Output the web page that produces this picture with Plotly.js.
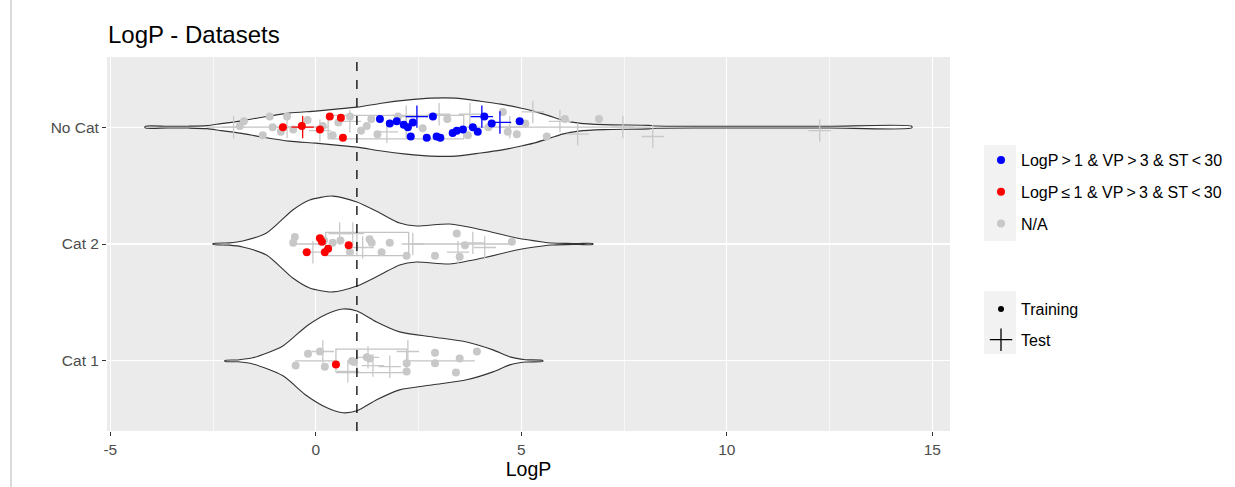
<!DOCTYPE html>
<html><head><meta charset="utf-8">
<script src="https://cdn.plot.ly/plotly-3.0.1.min.js"></script>
<style>html,body{margin:0;padding:0;background:#fff}#chart{width:1235px;height:487px}</style>
</head><body><div id="chart"></div>
<script>
// ---- categories & axis ----
const categories = ['Cat 1', 'Cat 2', 'No Cat'];
const catPositions = [1, 2, 3];
const xTickVals = [-5, 0, 5, 10, 15];
const threshold = 1;

// ---- violin outlines (LogP, half-width in category units) ----
const noCatViolinX = [-4.15, -3.6, -3.1, -2.65, -2.3, -1.85, -1.3, -0.65, 0.0, 0.5, 1.0, 1.6, 2.2, 2.8, 3.4, 4.0, 4.5, 5.0, 5.3, 5.7, 6.0, 6.4, 7.0, 8.1, 8.3, 9.5, 11.0, 12.5, 14.5];
const noCatViolinHalf = [0.007, 0.007, 0.008, 0.013, 0.030, 0.051, 0.085, 0.120, 0.137, 0.154, 0.171, 0.205, 0.231, 0.248, 0.248, 0.222, 0.197, 0.162, 0.137, 0.094, 0.060, 0.034, 0.021, 0.015, 0.009, 0.007, 0.007, 0.007, 0.007];
const cat2ViolinX = [-2.5, -2.1, -1.78, -1.2, -0.56, -0.15, 0.41, 1.0, 1.56, 2.04, 2.45, 3.26, 4.06, 4.89, 5.52, 5.75, 6.1, 6.4, 6.74];
const cat2ViolinHalf = [0.004, 0.010, 0.026, 0.094, 0.291, 0.376, 0.410, 0.359, 0.265, 0.179, 0.154, 0.171, 0.120, 0.051, 0.017, 0.008, 0.005, 0.004, 0.004];
const cat1ViolinX = [-2.21, -1.9, -1.53, -0.8, -0.22, 0.27, 0.66, 1.0, 1.48, 2.04, 2.85, 3.67, 4.31, 4.72, 5.1, 5.52];
const cat1ViolinHalf = [0.004, 0.008, 0.026, 0.128, 0.299, 0.402, 0.444, 0.427, 0.333, 0.248, 0.205, 0.162, 0.094, 0.034, 0.010, 0.004];

// ---- box statistics (order: Cat 1, Cat 2, No Cat) ----
const boxLower = [-0.5, -0.58, -2.65];
const boxQ1 = [0.49, 0.24, 0.3];
const boxMedian = [1.0, 1.0, 2.2];
const boxQ3 = [2.21, 2.26, 3.6];
const boxUpper = [3.87, 4.77, 8.15];

// ---- points: LogP, category, vertical jitter ----
const blueTrainLogP = [1.56, 1.80, 1.97, 2.14, 2.24, 2.36, 2.31, 2.70, 2.85, 2.94, 3.03, 3.33, 3.43, 3.58, 3.82, 3.94, 4.10, 4.28, 4.96];
const blueTrainCat = ['No Cat','No Cat','No Cat','No Cat','No Cat','No Cat','No Cat','No Cat','No Cat','No Cat','No Cat','No Cat','No Cat','No Cat','No Cat','No Cat','No Cat','No Cat','No Cat'];
const blueTrainJitter = [0.07, 0.03, 0.05, 0.02, 0.0, 0.04, -0.08, -0.09, 0.09, -0.08, -0.09, -0.05, -0.03, -0.02, 0.0, -0.04, 0.09, 0.03, 0.05];

const blueTestLogP = [2.46, 4.04, 4.48];
const blueTestCat = ['No Cat', 'No Cat', 'No Cat'];
const blueTestJitter = [0.09, 0.09, 0.04];

const redTrainLogP = [-0.8, -0.34, 0.1, 0.34, 0.61, 0.66, -0.22, 0.1, 0.15, 0.22, 0.3, 0.8, 0.49];
const redTrainCat = ['No Cat','No Cat','No Cat','No Cat','No Cat','No Cat','Cat 2','Cat 2','Cat 2','Cat 2','Cat 2','Cat 2','Cat 1'];
const redTrainJitter = [0.0, 0.01, -0.02, 0.09, 0.08, -0.09, -0.07, 0.05, 0.02, -0.07, -0.04, -0.01, -0.03];

const redTestLogP = [-0.32];
const redTestCat = ['No Cat'];
const redTestJitter = [0.0];

const greyTrainLogP = [-1.85, -1.75, -1.29, -1.12, -1.05, -0.85, -0.7, -0.55, -0.2, 0.17, 0.41, 0.55, 0.83, 1.1, 1.24, 1.35, 1.5, 2.0, 2.6, 3.2, 3.7, 4.2, 4.55, 4.67, 4.89, 5.1, 5.62, 6.06, 6.89,
  -0.51, -0.55, 0.2, 0.41, 0.6, 0.83, 1.31, 1.36, 1.6, 1.8, 2.21, 2.9, 3.43, 3.5, 3.63, 4.77,
  -0.49, -0.19, 0.1, 0.22, 0.88, 0.93, 1.24, 1.31, 2.21, 2.21, 2.9, 2.9, 3.41, 3.5, 3.92];
const greyTrainCat = ['No Cat','No Cat','No Cat','No Cat','No Cat','No Cat','No Cat','No Cat','No Cat','No Cat','No Cat','No Cat','No Cat','No Cat','No Cat','No Cat','No Cat','No Cat','No Cat','No Cat','No Cat','No Cat','No Cat','No Cat','No Cat','No Cat','No Cat','No Cat','No Cat',
  'Cat 2','Cat 2','Cat 2','Cat 2','Cat 2','Cat 2','Cat 2','Cat 2','Cat 2','Cat 2','Cat 2','Cat 2','Cat 2','Cat 2','Cat 2','Cat 2',
  'Cat 1','Cat 1','Cat 1','Cat 1','Cat 1','Cat 1','Cat 1','Cat 1','Cat 1','Cat 1','Cat 1','Cat 1','Cat 1','Cat 1','Cat 1'];
const greyTrainJitter = [0.01, 0.05, -0.07, 0.09, 0.0, -0.04, 0.09, -0.02, 0.06, 0.01, -0.07, 0.04, 0.09, -0.03, 0.01, 0.07, -0.06, 0.09, -0.01, 0.07, -0.07, 0.0, 0.13, -0.04, -0.06, 0.03, -0.08, 0.07, 0.07,
  0.06, 0.01, 0.03, 0.01, 0.03, -0.07, 0.04, 0.01, -0.07, 0.01, -0.1, -0.1, 0.09, -0.11, -0.01, 0.02,
  -0.04, 0.06, 0.08, -0.05, 0.0, -0.01, 0.03, 0.02, -0.02, -0.09, 0.07, -0.02, -0.1, 0.02, 0.08];

const greyTestLogP = [-2.0, -0.7, 0.1, 0.83, 1.73, 2.2, 3.0, 3.75, 4.72, 5.28, 5.94, 6.37, 7.47, 8.2, 12.26,
  -0.07, 0.58, 0.9, 1.14, 2.36, 3.46, 3.82, 4.11,
  0.17, 0.78, 1.27, 1.39, 1.8, 2.24];
const greyTestCat = ['No Cat','No Cat','No Cat','No Cat','No Cat','No Cat','No Cat','No Cat','No Cat','No Cat','No Cat','No Cat','No Cat','No Cat','No Cat',
  'Cat 2','Cat 2','Cat 2','Cat 2','Cat 2','Cat 2','Cat 2','Cat 2',
  'Cat 1','Cat 1','Cat 1','Cat 1','Cat 1','Cat 1'];
const greyTestJitter = [0.0, 0.0, -0.03, 0.05, -0.04, 0.09, 0.11, 0.11, 0.0, 0.13, 0.05, -0.06, 0.0, -0.08, -0.03,
  -0.07, 0.09, 0.09, -0.03, 0.0, -0.07, 0.01, -0.03,
  0.08, -0.09, 0.03, -0.04, -0.05, 0.08];

// ---- legend labels ----
const colorLegendLabels = ['LogP\u2009>\u20091 & VP\u2009>\u20093 & ST\u2009<\u200930', 'LogP\u2009≤\u20091 & VP\u2009>\u20093 & ST\u2009<\u200930', 'N/A'];
const shapeLegendLabels = ['Training', 'Test'];

// ---- styling ----
const BLUE = '#0000FF', RED = '#FF0000', GREY = '#C8C8C8';
const FONT = 'Liberation Sans, Arial, sans-serif';
const pos = c => catPositions[categories.indexOf(c)];

const traces = [];

function violinTrace(cat, xs, hs) {
  const c = pos(cat);
  const x = [], y = [];
  for (let i = 0; i < xs.length; i++) { x.push(xs[i]); y.push(c + hs[i]); }
  for (let i = xs.length - 1; i >= 0; i--) { x.push(xs[i]); y.push(c - hs[i]); }
  x.push(xs[0]); y.push(c + hs[0]);
  return { type: 'scatter', mode: 'lines', x, y, fill: 'toself', fillcolor: '#FFFFFF',
    line: { color: '#333333', width: 1.1, shape: 'spline', smoothing: 0.7 }, showlegend: false, hoverinfo: 'skip' };
}
traces.push(violinTrace('No Cat', noCatViolinX, noCatViolinHalf));
traces.push(violinTrace('Cat 2', cat2ViolinX, cat2ViolinHalf));
traces.push(violinTrace('Cat 1', cat1ViolinX, cat1ViolinHalf));

// boxes
(function () {
  const x = [], y = [], h = 0.1;
  categories.forEach((cat, i) => {
    const c = catPositions[i];
    x.push(boxQ1[i], boxQ3[i], boxQ3[i], boxQ1[i], boxQ1[i], null); y.push(c - h, c - h, c + h, c + h, c - h, null);
    x.push(boxMedian[i], boxMedian[i], null); y.push(c - h, c + h, null);
    x.push(boxLower[i], boxQ1[i], null); y.push(c, c, null);
    x.push(boxQ3[i], boxUpper[i], null); y.push(c, c, null);
  });
  traces.push({ type: 'scatter', mode: 'lines', x, y, line: { color: '#C4C4C4', width: 1.3 }, showlegend: false, hoverinfo: 'skip', connectgaps: false });
})();

function pointTrace(lp, cats, jit, color, isTest) {
  return { type: 'scatter', mode: 'markers', x: lp, y: cats.map((c, i) => pos(c) + jit[i]),
    marker: isTest ? { symbol: 'cross-thin', size: 16, color: color, line: { color: color, width: 1.3 } }
                   : { symbol: 'circle', size: 8, color: color, line: { width: 0 } },
    showlegend: false, hoverinfo: 'skip' };
}
traces.push(pointTrace(greyTrainLogP, greyTrainCat, greyTrainJitter, GREY, false));
traces.push(pointTrace(greyTestLogP, greyTestCat, greyTestJitter, GREY, true));
traces.push(pointTrace(redTrainLogP, redTrainCat, redTrainJitter, RED, false));
traces.push(pointTrace(redTestLogP, redTestCat, redTestJitter, RED, true));
traces.push(pointTrace(blueTrainLogP, blueTrainCat, blueTrainJitter, BLUE, false));
traces.push(pointTrace(blueTestLogP, blueTestCat, blueTestJitter, BLUE, true));

// legend entries
const legendColors = [BLUE, RED, GREY];
colorLegendLabels.forEach((lab, i) => traces.push({ type: 'scatter', mode: 'markers', x: [null], y: [null], name: lab,
  legend: 'legend', legendgroup: 'c' + i, marker: { symbol: 'circle', size: 8, color: legendColors[i] } }));
traces.push({ type: 'scatter', mode: 'markers', x: [null], y: [null], name: shapeLegendLabels[0], legend: 'legend2', legendgroup: 's0',
  marker: { symbol: 'circle', size: 6, color: '#000' } });
traces.push({ type: 'scatter', mode: 'markers', x: [null], y: [null], name: shapeLegendLabels[1], legend: 'legend2', legendgroup: 's1',
  marker: { symbol: 'cross-thin', size: 16, color: '#000', line: { color: '#000', width: 1.3 } } });

const W = 1235, H = 487;
const L = 107, R = 950, T = 57, B = 431;
const px2x = p => (p - L) / (R - L);
const px2y = p => (B - p) / (B - T);
const cx = p => p / W;
const cy = p => 1 - p / H;

const layout = {
  width: W, height: H,
  margin: { l: L, r: W - R, t: T, b: H - B, pad: 0 },
  paper_bgcolor: '#FFFFFF', plot_bgcolor: '#EBEBEB',
  font: { family: FONT, size: 16, color: '#4D4D4D' },
  title: { text: 'LogP - Datasets', x: px2x(108), xref: 'paper', xanchor: 'left', y: 1 - 35 / H, yanchor: 'middle',
    font: { family: FONT, size: 24, color: '#000000' } },
  xaxis: { range: [-5.08, 15.43], tickvals: xTickVals, ticktext: xTickVals.map(String), showgrid: true, gridcolor: '#FFFFFF', gridwidth: 1.2,
    minor: { tickvals: [-2.5, 2.5, 7.5, 12.5], showgrid: true, gridcolor: '#FFFFFF', gridwidth: 0.6, ticks: '' },
    zeroline: false, ticks: 'outside', ticklen: 4, tickcolor: '#333333', tickwidth: 1, showline: false, automargin: false,
    tickfont: { family: FONT, size: 15.5, color: '#4D4D4D' },
    title: { text: 'LogP', font: { family: FONT, size: 19.5, color: '#000000' }, standoff: 4 } },
  yaxis: { range: [0.4, 3.6], tickvals: catPositions, ticktext: categories, showgrid: true, gridcolor: '#FFFFFF', gridwidth: 1.2,
    zeroline: false, ticks: 'outside', ticklen: 4, tickcolor: '#333333', tickwidth: 1, showline: false, automargin: false,
    tickfont: { family: FONT, size: 15.5, color: '#4D4D4D' } },
  legend: { xref: 'container', yref: 'container', x: cx(981), y: cy(143), xanchor: 'left', yanchor: 'top', bgcolor: 'rgba(0,0,0,0)',
    traceorder: 'grouped', tracegroupgap: 8, font: { family: FONT, size: 16, color: '#000000' }, itemwidth: 30 },
  legend2: { xref: 'container', yref: 'container', x: cx(981), y: cy(292), xanchor: 'left', yanchor: 'top', bgcolor: 'rgba(0,0,0,0)',
    traceorder: 'grouped', tracegroupgap: 7, font: { family: FONT, size: 16, color: '#000000' }, itemwidth: 30 },
  shapes: [
    { type: 'line', xref: 'x', yref: 'paper', x0: threshold, x1: threshold, y0: 0, y1: 1, line: { color: '#000000', width: 1.3, dash: 'dash' }, layer: 'above' },
    { type: 'rect', xref: 'paper', yref: 'paper', x0: px2x(984), x1: px2x(1016), y0: px2y(241), y1: px2y(145), fillcolor: '#F2F2F2', line: { width: 0 }, layer: 'below' },
    { type: 'rect', xref: 'paper', yref: 'paper', x0: px2x(984), x1: px2x(1016), y0: px2y(354), y1: px2y(291), fillcolor: '#F2F2F2', line: { width: 0 }, layer: 'below' },
    { type: 'line', xref: 'paper', yref: 'paper', x0: px2x(11), x1: px2x(11), y0: px2y(487), y1: px2y(0), line: { color: '#CCCCCC', width: 1.5 } }
  ],
  showlegend: true
};

Plotly.newPlot('chart', traces, layout, { staticPlot: true, displayModeBar: false });
</script>
</body></html>
